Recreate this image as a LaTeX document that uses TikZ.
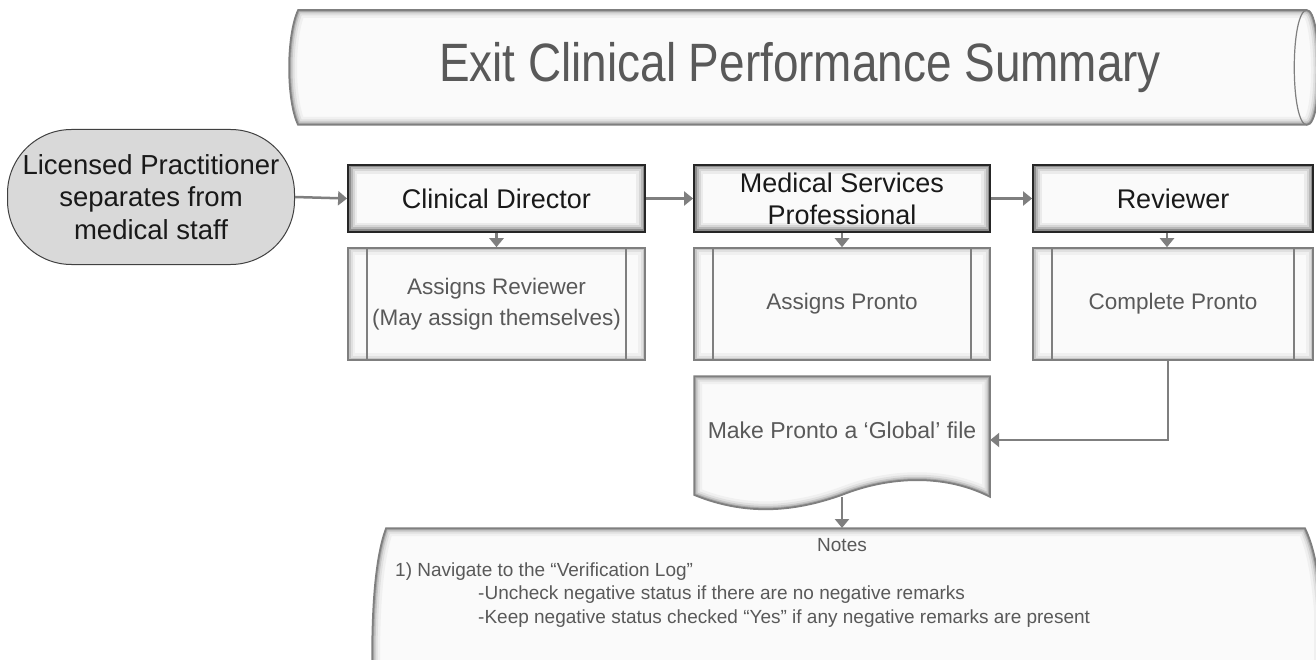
\documentclass[tikz,border=0pt]{standalone}
\usepackage{fontspec}
\setmainfont{Liberation Sans}
\newfontfamily\narrowfont[FakeStretch=0.85]{Liberation Sans}
\usetikzlibrary{arrows.meta,calc}
\definecolor{txtgray}{HTML}{595959}
\definecolor{linegray}{HTML}{7F7F7F}
\definecolor{darkline}{HTML}{262626}
\definecolor{stadfill}{HTML}{D9D9D9}
\tikzset{
  glowdark/.style={path picture={
    \foreach \w/\c in {18/8,13/16,9/28,5/45,2.5/65}
      \draw[line width=\w pt, black!\c] (path picture bounding box.south west) rectangle (path picture bounding box.north east);}},
  glowlight/.style={path picture={
    \foreach \w/\c in {14/6,9/12,5/22,2/35}
      \draw[line width=\w pt, black!\c] (path picture bounding box.south west) rectangle (path picture bounding box.north east);}},
  rolebox/.style={draw=darkline, line width=1.8pt, fill=black!2, glowdark,
    minimum height=67pt, inner sep=2pt, align=center, text=black!90,
    font=\fontsize{27}{32}\selectfont},
  subbox/.style={draw=linegray, line width=1.6pt, fill=black!2, glowlight,
    minimum height=112pt, inner sep=2pt, align=center, text=txtgray,
    font=\fontsize{22.5}{31}\selectfont},
  flow/.style={draw=linegray, line width=2.5pt, -{Triangle[length=9pt,width=14pt]}},
  startnode/.style={draw=black!75, line width=1pt, fill=stadfill, rounded corners=64pt,
    minimum width=287pt, minimum height=135pt, align=center, text=black!90,
    font=\fontsize{27.5}{32.5}\selectfont, inner sep=0pt},
  notefont/.style={text=txtgray, font=\fontsize{19}{23}\selectfont, inner sep=0pt},
}
\begin{document}
\begin{tikzpicture}[x=1pt,y=-1pt]
\useasboundingbox (0,0) rectangle (1316,660);
\clip (0,0) rectangle (1316,660);
\fill[white] (0,0) rectangle (1316,660);

% ---- title cylinder ----
\def\titlepath{(298,10) -- (1307,10) .. controls (1322,10) and (1324,125) .. (1307,125) -- (298,125) .. controls (286,100) and (286,36) .. (298,10) -- cycle}
\fill[black!2] \titlepath;
\begin{scope}
  \clip \titlepath;
  \foreach \w/\c in {16/6,11/12,7/22,4/35,2/50}
    \draw[line width=\w pt, black!\c] \titlepath;
\end{scope}
\draw[linegray, line width=1.5pt] \titlepath;
\draw[linegray, line width=1.2pt] (1307,10) .. controls (1290,10) and (1290,125) .. (1307,125);
\node[text=txtgray, font=\narrowfont\fontsize{54}{60}\selectfont] (title) at (800,68) {Exit Clinical Performance Summary};

% ---- start ----
\node[startnode] (lp) at (151,197) {Licensed Practitioner\\separates from\\medical staff};

% ---- role boxes ----
\node[rolebox, minimum width=297pt] (cd) at (496.5,198.5) {Clinical Director};
\node[rolebox, minimum width=296pt] (msp) at (842,198.5) {Medical Services\\Professional};
\node[rolebox, minimum width=280pt] (rv) at (1173,198.5) {Reviewer};

% ---- subprocess boxes ----
\node[subbox, minimum width=297pt] (ar) at (496.5,304) {Assigns Reviewer\\(May assign themselves)};
\node[subbox, minimum width=296pt] (ap) at (842,304) {Assigns Pronto};
\node[subbox, minimum width=280pt] (cp) at (1173,304) {Complete Pronto};
\foreach \n in {ar,ap,cp}{
  \draw[linegray, line width=1.6pt] ($(\n.north west)+(20,0)$) -- ($(\n.south west)+(20,0)$);
  \draw[linegray, line width=1.6pt] ($(\n.north east)+(-20,0)$) -- ($(\n.south east)+(-20,0)$);
}

% ---- document shape ----
\node[minimum width=296pt, minimum height=128pt, inner sep=0pt] (mk) at (842,440) {};
\def\docpath{(694,376) -- (990,376) -- (990,497) .. controls (945,474) and (890,476) .. (842,495) .. controls (800,510) and (750,518) .. (694,495) -- cycle}
\fill[black!2] \docpath;
\begin{scope}
  \clip \docpath;
  \foreach \w/\c in {16/6,11/12,7/22,4/35,2/50}
    \draw[line width=\w pt, black!\c] \docpath;
\end{scope}
\draw[linegray, line width=1.5pt] \docpath;
\node[text=txtgray, font=\fontsize{23}{28}\selectfont] (mktext) at (842,430) {Make Pronto a ‘Global’ file};

% ---- notes shape ----
\def\notespath{(386,528) -- (1305,528) .. controls (1313,545) and (1318,565) .. (1322,610) -- (1322,700) -- (372,700) -- (372,660) .. controls (372,600) and (376,555) .. (386,528) -- cycle}
\fill[black!2] \notespath;
\begin{scope}
  \clip \notespath;
  \foreach \w/\c in {16/6,11/12,7/22,4/35,2/50}
    \draw[line width=\w pt, black!\c] \notespath;
\end{scope}
\draw[linegray, line width=1.5pt] (372,700) -- (372,660) .. controls (372,600) and (376,555) .. (386,528) -- (1305,528) .. controls (1313,545) and (1318,565) .. (1322,610);
\coordinate (notestop) at (842,528);
\node[notefont, anchor=base] (notes) at (842,551) {Notes};
\node[notefont, anchor=base west] (n1) at (395,576) {1) Navigate to the “Verification Log”};
\node[notefont, anchor=base west] (n2) at (478,599.5) {-Uncheck negative status if there are no negative remarks};
\node[notefont, anchor=base west] (n3) at (478,623) {-Keep negative status checked “Yes” if any negative remarks are present};

% ---- connectors ----
\draw[flow] (lp.east) -- (cd.west);
\draw[flow] (cd.east) -- (msp.west);
\draw[flow] (msp.east) -- (rv.west);
\draw[flow] (cd.south) -- (ar.north);
\draw[flow] (msp.south) -- (ap.north);
\draw[flow] ([xshift=-6pt]rv.south) -- ([xshift=-6pt]cp.north);
\draw[flow] ([xshift=-5pt]cp.south) |- (mk.east);
\draw[flow] (842,497) -- (notestop);
\end{tikzpicture}
\end{document}
